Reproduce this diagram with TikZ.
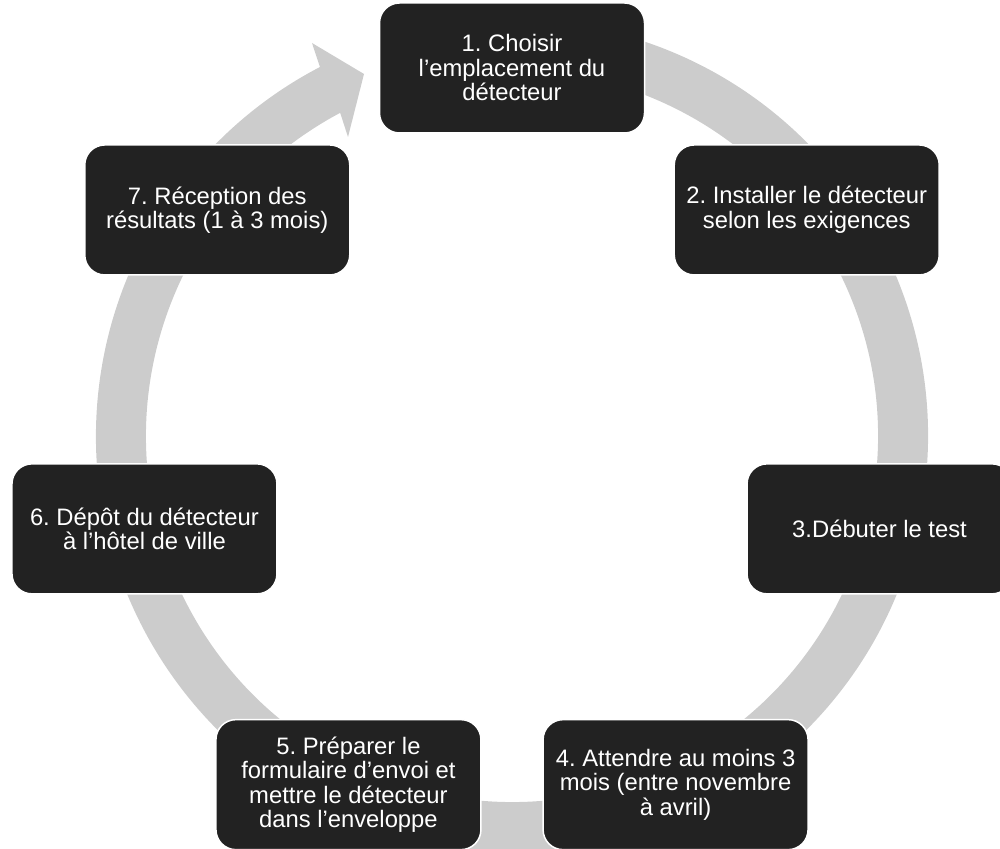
\documentclass[tikz,border=0pt]{standalone}
\usepackage{fontspec}
\setmainfont{Liberation Sans}
\usetikzlibrary{calc}
\definecolor{boxfill}{HTML}{222222}
\definecolor{ringgray}{HTML}{CCCCCC}
\frenchspacing
\begin{document}
\begin{tikzpicture}[x=1pt,y=1pt,
  stepbox/.style={rectangle, rounded corners=20pt, minimum width=265pt, minimum height=130pt,
    fill=boxfill, draw=white, line width=1.5pt, text=white, align=center,
    font=\fontsize{23.8}{24.5}\selectfont, inner sep=4pt},
  ringfill/.style={fill=ringgray}]
\useasboundingbox (0,0) rectangle (1000,848);
\clip (0,0) rectangle (1000,848);
\coordinate (C) at (512,412);
\coordinate (N) at (512,403);
\coordinate (hout) at (312,805);
\coordinate (htip) at (364,774);
\coordinate (hin) at (348,711);
\fill[ringfill] ($(C)+(80:416)$) arc[start angle=80,end angle=-242.5,radius=416]
  -- (hout) -- (htip) -- (hin) -- ($(C)+(118:366)$)
  arc[start angle=-242,end angle=80,radius=366] -- cycle;
\node[stepbox] (s1) at ($(N)+(90:377)$) {1. Choisir\\l’emplacement du\\détecteur};
\node[stepbox] (s2) at ($(N)+(38.571:377)$) {2. Installer le détecteur\\selon les exigences};
\node[stepbox] (s3) at ($(N)+(-12.857:377)$) {3.Débuter le test};
\node[stepbox] (s4) at ($(N)+(-64.286:377)$) {4. Attendre au moins 3\\mois (entre novembre\\à avril)};
\node[stepbox] (s5) at ($(N)+(-115.714:377)$) {5. Préparer le\\formulaire d’envoi et\\mettre le détecteur\\dans l’enveloppe};
\node[stepbox] (s6) at ($(N)+(-167.143:377)$) {6. Dépôt du détecteur\\à l’hôtel de ville};
\node[stepbox] (s7) at ($(N)+(141.429:377)$) {7. Réception des\\résultats (1 à 3 mois)};
\end{tikzpicture}
\end{document}
